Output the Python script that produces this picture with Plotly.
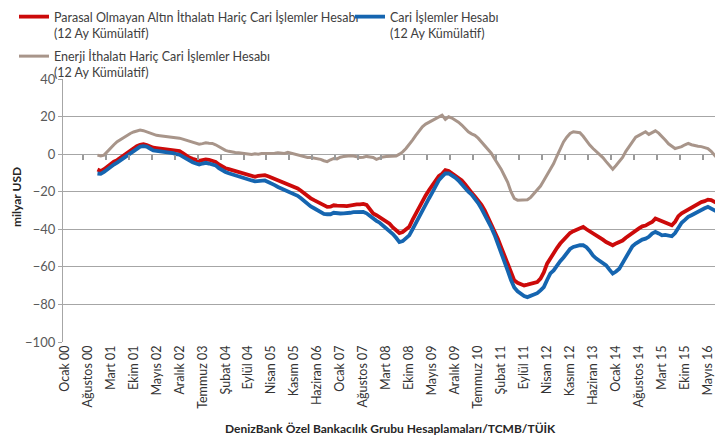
import plotly.graph_objects as go

# ---------------- data ----------------
tick_labels = ['Ocak 00', 'Ağustos 00', 'Mart 01', 'Ekim 01', 'Mayıs 02', 'Aralık 02',
               'Temmuz 03', 'Şubat 04', 'Eylül 04', 'Nisan 05', 'Kasım 05', 'Haziran 06',
               'Ocak 07', 'Ağustos 07', 'Mart 08', 'Ekim 08', 'Mayıs 09', 'Aralık 09',
               'Temmuz 10', 'Şubat 11', 'Eylül 11', 'Nisan 12', 'Kasım 12', 'Haziran 13',
               'Ocak 14', 'Ağustos 14', 'Mart 15', 'Ekim 15', 'Mayıs 16']
label_every = 7          # months between tick labels (Ocak 00 = month 0)
series_start = 10        # first month with data (Kasım 00)

gold_excl = [  # Parasal Olmayan Altın İthalatı Hariç Cari İşlemler Hesabı
    -8.2, -9, -8, -6.5, -5, -4, -3.2, -2, -0.8, 0.5,
    2.1, 3.2, 4.2, 5, 5.3, 4.8, 4, 3.4, 3.2, 3,
    2.7, 2.5, 2.2, 2, 1.8, 1.6, 0.5, -0.8, -1.8, -2.5,
    -3.2, -3.6, -3.2, -2.8, -3, -3.5, -4.1, -5.5, -6.8, -7.5,
    -8, -8.5, -9.2, -9.5, -10, -10.3, -10.8, -11.5, -12.1, -11.5,
    -11.3, -11.2, -11.8, -12.5, -13.5, -14.2, -14.8, -15.5, -16.2, -17,
    -17.8, -18.3, -19.5, -21, -22.5, -23.5, -24.5, -25.5, -26.5, -27.5,
    -28.1, -28, -27.2, -27.4, -27.7, -27.5, -27.7, -27.3, -27, -26.7,
    -26.7, -26.5, -27, -29, -31.6, -32.5, -33.5, -35, -36, -37,
    -39, -40.5, -42, -41.5, -40, -38.7, -35, -31.5, -28.1, -25,
    -22, -19.2, -16.5, -14, -11.7, -10.5, -8.5, -9, -10.3, -11.5,
    -12.5, -14, -16, -18.5, -20.5, -22.5, -24.5, -27, -30, -33.5,
    -37, -41, -45, -49.5, -54, -59, -63.5, -67.2, -68.5, -69.3,
    -69.9, -69.5, -69, -68.3, -68.1, -66.3, -63, -58.3, -55.5, -52.1,
    -50, -47.6, -45.5, -43.5, -42, -41, -40.2, -39.5, -38.7, -40,
    -41, -42.5, -43.5, -44.5, -45.5, -46.8, -47.5, -48.5, -47.5, -46.8,
    -46, -44.5, -43.2, -41.5, -40.5, -39.5, -38.4, -38, -37, -36.1,
    -34.3, -35, -36.1, -36.5, -37, -37.9, -36, -33, -31.5, -30.5,
    -29, -28.5, -27.5, -26.3, -25.5, -25, -24.2, -24.5, -25.5, -26.3, -29,
]

current_account = [  # Cari İşlemler Hesabı
    -10.3, -10.5, -9.5, -8, -6.5, -5.5, -4.5, -3.3, -2, -1,
    0.5, 1.8, 3, 4, 4.3, 4, 3, 2, 1.8, 1.6,
    1.3, 1, 0.8, 0.5, 0, -0.3, -1.3, -2.5, -3.5, -4.3,
    -5, -5.5, -5, -4.6, -5, -5.5, -6, -7.5, -8.8, -9.5,
    -10.2, -10.8, -11.5, -12, -12.5, -13, -13.5, -14, -14.5, -14.2,
    -14, -14, -14.8, -15.5, -16.5, -17.5, -18.2, -19, -19.8, -20.5,
    -21.5, -22.2, -23.5, -25, -26.5, -27.8, -28.8, -29.8, -30.8, -31.8,
    -32, -32, -31.2, -31.5, -31.6, -31.5, -31.6, -31.2, -30.9, -30.8,
    -30.8, -30.8, -31.5, -33, -34.3, -35.5, -36.5, -38, -39, -40.5,
    -42.5, -44.5, -46.8, -46.3, -45, -43.2, -40, -36.5, -33.4, -30,
    -27, -23.6, -20.5, -17.5, -13.9, -12, -10.3, -10.3, -11.2, -12.5,
    -14, -16, -18.5, -20, -21.5, -23.5, -26, -29, -32, -35.5,
    -39, -43, -47.5, -52, -57, -62, -67, -71, -73, -74.5,
    -75.5, -76.1, -75.5, -74.5, -74, -72.5, -70.8, -67, -63.5, -61.9,
    -59, -57, -55, -53, -50.5, -49.4, -48.8, -48.5, -48.5, -49.5,
    -51.5, -54, -55.6, -57, -58, -59.2, -61.5, -63.6, -62.5, -61,
    -58, -55, -51.2, -49, -47.6, -46.5, -45.5, -45, -44, -42.3,
    -41.4, -42.2, -43.2, -43, -43.5, -43.7, -42, -39, -36.5, -35,
    -33.4, -32.5, -31.5, -30.8, -29.8, -28.8, -28.1, -29, -30, -30.8, -33.4,
]

energy_excl = [  # Enerji İthalatı Hariç Cari İşlemler Hesabı
    -0.5, -1, -0.5, 1.5, 3.5, 5, 6.6, 7.8, 9, 10,
    11, 11.8, 12.3, 12.8, 12.5, 11.8, 11, 10.5, 10, 9.8,
    9.6, 9.5, 9.3, 9.2, 8.8, 8.5, 8, 7.5, 7, 6.5,
    5.8, 5.3, 5.6, 6, 5.8, 5.7, 5, 4, 3, 2,
    1.5, 1.1, 0.9, 0.7, 0.5, 0.3, 0, -0.2, 0.2, 0,
    0.3, 0.3, 0.5, 0.2, 0.5, 0.8, 0.6, 0.4, 1, 0.5,
    0, -0.5, -1, -1.5, -1.8, -1.8, -2, -2.3, -2.8, -3.5,
    -4, -3, -2.3, -2.5, -1.6, -1.3, -1, -0.8, -1, -1.5,
    -1.8, -1.6, -1.2, -1.5, -1.8, -2.8, -2, -1.5, -1.3, -1.2,
    -1, -1, 0, 1.2, 3, 5, 7.5, 10, 12.5, 14.6,
    16, 17, 18, 19, 20, 20.8, 18.5, 19.9, 19.2, 18.2,
    17, 15.5, 13.5, 11.9, 10.8, 10, 8.5, 6.5, 4.5, 3,
    0.5, -2.5, -5, -8, -11.5, -15, -20, -23.6, -24.5, -24.5,
    -24.5, -24.3, -23, -21, -19, -17, -14, -11, -8.5, -5,
    -1, 3, 6.5, 9, 11, 11.9, 11.8, 11.4, 9.5, 7,
    4.8, 3, 1.5, 0, -1.8, -4, -6, -8, -6, -4,
    -1.8, 1.5, 4, 7, 9, 10, 11, 11.9, 10.5, 11.5,
    12.4, 11.2, 9.5, 7.5, 5.5, 4, 3, 3.5, 4, 5,
    5.7, 5, 4.5, 4.2, 4, 3.5, 3, 1.5, -0.5, -2.5, -5.5,
]

# ---------------- figure ----------------
FONT = "Lato"
months = list(range(series_start, series_start + len(gold_excl)))
label_pos = [i * label_every for i in range(len(tick_labels))]
zero_tick_pos = [p + 5.5 for p in label_pos]
x_range = [-0.5, 200.6]
grid = "#A6A6A6"

# the page body has an 8px margin, so the figure is 8px smaller than the window
W, H = 715, 430
ML, MT, MB, MR = 55, 71, 96, 0
PW, PH = W - ML - MR, H - MT - MB


def paper_x(px):
    return (px - ML) / PW


def paper_y(py):
    return 1 - (py - MT) / PH


fig = go.Figure()
fig.add_trace(go.Scatter(
    x=months, y=gold_excl, mode="lines", legend="legend", legendgroup="a",
    name="Parasal Olmayan Altın İthalatı Hariç Cari İşlemler Hesabı<br>(12 Ay Kümülatif)",
    line=dict(color="#CC0A0A", width=3.8)))
fig.add_trace(go.Scatter(
    x=months, y=current_account, mode="lines", legend="legend2", legendgroup="b",
    name="Cari İşlemler Hesabı<br>(12 Ay Kümülatif)",
    line=dict(color="#1565B0", width=3.8)))
fig.add_trace(go.Scatter(
    x=months, y=energy_excl, mode="lines", legend="legend", xaxis="x2", legendgroup="c",
    name="Enerji İthalatı Hariç Cari İşlemler Hesabı<br>(12 Ay Kümülatif)",
    line=dict(color="#A8958A", width=3)))

legend_common = dict(
    orientation="v", xref="paper", yref="paper",
    xanchor="left", yanchor="top",
    font=dict(family=FONT, size=12.5, color="#404040"),
    itemwidth=30, valign="top", tracegroupgap=4,
    bgcolor="rgba(0,0,0,0)", borderwidth=0)

fig.update_layout(
    width=W, height=H,
    margin=dict(l=ML, r=MR, t=MT, b=MB, autoexpand=False),
    paper_bgcolor="white", plot_bgcolor="white",
    font=dict(family=FONT, color="#404040", size=12),
    showlegend=True,
    legend=dict(x=paper_x(6), y=paper_y(-6), **legend_common),
    legend2=dict(x=paper_x(342), y=paper_y(-6), **legend_common),
    xaxis=dict(
        type="linear", range=x_range, showgrid=False, showline=False, zeroline=False,
        tickmode="array", tickvals=label_pos, ticktext=tick_labels,
        tickangle=-90, ticks="", tickfont=dict(family=FONT, size=12.5, color="#333333")),
    xaxis2=dict(
        overlaying="x", anchor="free", position=100 / 140, type="linear",
        range=x_range, showgrid=False, showline=False, zeroline=False,
        tickmode="array", tickvals=zero_tick_pos, showticklabels=False,
        ticks="outside", ticklen=5, tickcolor="#9A9A9A", tickwidth=1.5),
    yaxis=dict(
        range=[-100, 40], dtick=20, showgrid=True, gridcolor=grid, gridwidth=1.3,
        showline=True, linecolor=grid, linewidth=1.3, zeroline=False,
        ticks="outside", ticklen=4, tickcolor=grid, tickwidth=1.3,
        tickfont=dict(family=FONT, size=13, color="#595959")),
    annotations=[
        dict(text="<b>milyar USD</b>", xref="paper", yref="paper",
             x=paper_x(8), y=paper_y(189), textangle=-90, showarrow=False,
             font=dict(family=FONT, size=12, color="#262626"),
             xanchor="center", yanchor="middle"),
        dict(text="<b>DenizBank Özel Bankacılık Grubu Hesaplamaları/TCMB/TÜİK</b>",
             xref="paper", yref="paper", x=paper_x(382), y=paper_y(420),
             showarrow=False,
             font=dict(family=FONT, size=12, color="#262626"),
             xanchor="center", yanchor="middle"),
    ],
)

fig.write_html("out.html")
